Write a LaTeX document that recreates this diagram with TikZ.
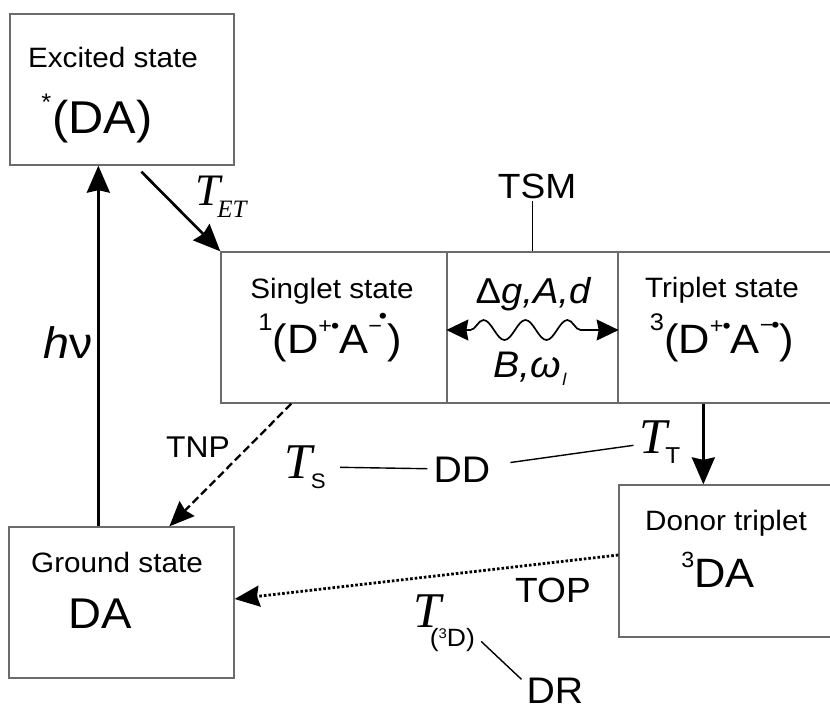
\documentclass[tikz,border=0pt]{standalone}
\usepackage{fontspec}
\setmainfont{Liberation Sans}[FakeStretch=1.06]
\newfontfamily\timesfont{Liberation Serif}
\usetikzlibrary{arrows.meta,decorations.pathmorphing}
\newcommand{\fsz}[1]{\fontsize{#1pt}{#1pt}\selectfont}

\begin{document}
\begin{tikzpicture}[x=1pt,y=-1pt,
  statebox/.style={draw=black!58,line width=1.3pt,inner sep=0pt,minimum height=151pt},
  txt/.style={inner sep=0pt,anchor=base},
  tag/.style={inner sep=6pt,anchor=base},
  flow/.style={line width=2.7pt,-{Stealth[length=27pt,width=23pt,inset=2.5pt]}},
  dashflow/.style={line width=2.3pt,dash pattern=on 8pt off 4pt,-{Stealth[length=25pt,width=21pt,inset=2.5pt]}},
  dotflow/.style={line width=2.8pt,dash pattern=on 2.6pt off 2pt,-{Stealth[length=25pt,width=21pt,inset=2.5pt]}},
  waveflow/.style={line width=1.7pt,{Stealth[length=22pt,width=21pt,inset=2pt]}-{Stealth[length=22pt,width=21pt,inset=2pt]}},
  thinline/.style={line width=1.4pt}]
\useasboundingbox (0,0) rectangle (830,705);

% state boxes (the two right-hand boxes run past the right margin)
\node[statebox,minimum width=224pt] (excited) at (122,89.5) {};
\node[statebox,minimum width=225pt] (ground) at (121.5,602.5) {};
\node[statebox,minimum width=226pt] (singlet) at (334,327.5) {};
\node[statebox,minimum width=171pt] (mid) at (532.5,327.5) {};
\node[statebox,minimum width=224pt] (triplet) at (730,327.5) {};
\node[statebox,minimum width=222pt,minimum height=152pt] (donor) at (730,561) {};

% box texts
\node[txt] (exct) at (113,67) {\fsz{28}Excited state};
\node[txt] (excf) at (97,133) {\fsz{46}\raisebox{23pt}{\fsz{24}*}\kern1pt(DA)};
\node[txt] (sint) at (332,298) {\fsz{28}Singlet state};
\node[txt] (sinf) at (330,353) {\fsz{41}\raisebox{23pt}{\fsz{24}1}(D\raisebox{20pt}{\fsz{22}+\kern-1pt•}A\raisebox{20pt}{\fsz{22}−}\kern-3pt\raisebox{30pt}{\fsz{22}•})};
\node[txt] (trit) at (722,297) {\fsz{28}Triplet state};
\node[txt] (trif) at (722,353) {\fsz{41}\raisebox{23pt}{\fsz{24}3}(D\raisebox{20pt}{\fsz{22}+\kern-1pt•}A\raisebox{21pt}{\fsz{22}−\kern-2pt•})};
\node[txt] (grdt) at (117,572) {\fsz{28}Ground state};
\node[txt] (grdf) at (100,628) {\fsz{43}DA};
\node[txt] (dont) at (726,530) {\fsz{28}Donor triplet};
\node[txt] (donf) at (718,587) {\fsz{41}\raisebox{20pt}{\fsz{22}3}DA};

% mechanism labels
\node[txt] (tsm) at (537,198) {\fsz{35}TSM};
\node[txt] (int) at (533,303) {\fsz{36}Δ\itshape g,A,d};
\node[txt] (fld) at (530,377) {\fsz{37}\itshape B,ω\kern1pt\raisebox{-8pt}{\fsz{17}l}};
\node[txt] (tet) at (221,205) {\timesfont\itshape\fsz{45}T\kern-3pt\raisebox{-12pt}{\fsz{25}ET}};
\node[txt] (hnu) at (68,358) {\fsz{44}\itshape h\upshape ν};
\node[txt] (tnp) at (198,457) {\fsz{30}TNP};
\node[tag] (ts) at (305,478) {{\timesfont\itshape\fsz{50}T}\kern-1pt\raisebox{-10pt}{\fsz{21}S}};
\node[tag] (dd) at (462,482) {\fsz{37}DD};
\node[tag] (tt) at (660,453) {{\timesfont\itshape\fsz{50}T}\kern-2pt\raisebox{-10pt}{\fsz{23}T}};
\node[txt] (top) at (553,602) {\fsz{35}TOP};
\node[txt] (td) at (444,627) {{\timesfont\itshape\fsz{50}T}\kern-11pt\raisebox{-19pt}{\fsz{25}(\raisebox{8pt}{\fsz{14}3}D)}};
\node[txt] (dr) at (555,703) {\fsz{37}DR};

% transitions
\draw[flow] ([xshift=90pt]ground.north west) -- ([xshift=89pt]excited.south west);
\draw[flow] ([xshift=132pt,yshift=-6pt]excited.south west) -- (singlet.north west);
\draw[dashflow] ([xshift=71pt]singlet.south west) -- ([xshift=161pt]ground.north west);
\draw[flow] ([xshift=86pt]triplet.south west) -- ([xshift=85pt]donor.north west);
\draw[dotflow] ([yshift=6pt]donor.west) -- ([yshift=3.5pt]ground.east);
\draw[waveflow,decorate,
  decoration={snake,amplitude=10pt,segment length=42pt,pre length=24pt,post length=24pt}]
  ([yshift=-2.5pt]mid.west) -- ([yshift=-2.5pt]mid.east);

% label leaders
\draw[thinline] (mid.north) -- ([yshift=50pt]mid.north);
\draw[thinline,shorten <=8pt] (ts) -- (dd);
\draw[thinline,shorten <=14pt] (dd) -- (tt);
\draw[thinline] ([xshift=6pt,yshift=10pt]td.south east) -- ([xshift=-5pt,yshift=-2pt]dr.north west);
\end{tikzpicture}
\end{document}
